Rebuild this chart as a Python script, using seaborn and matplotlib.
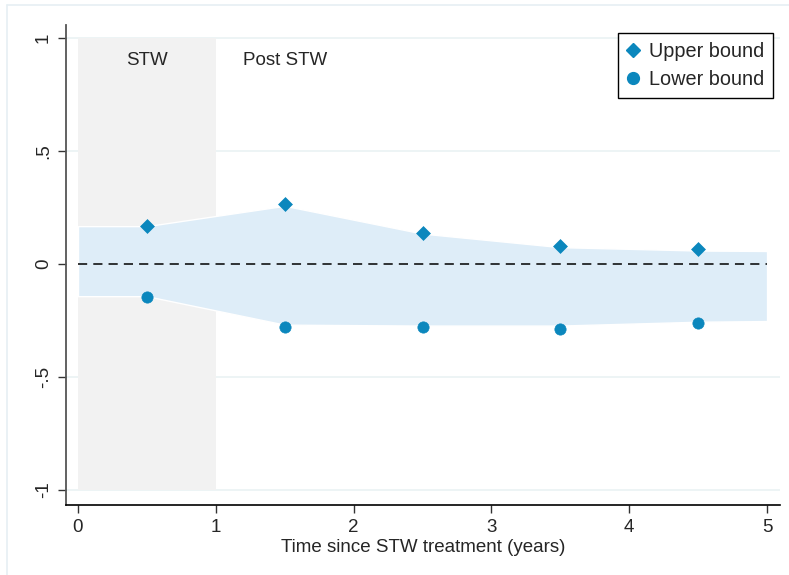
import matplotlib
matplotlib.use("Agg")
import matplotlib.pyplot as plt
import seaborn as sns
import pandas as pd
from matplotlib.lines import Line2D

# ---- data ----
years = [0.5, 1.5, 2.5, 3.5, 4.5]
upper_bound = [0.168, 0.265, 0.137, 0.080, 0.066]
lower_bound = [-0.146, -0.279, -0.279, -0.288, -0.261]

band_x = [0.0, 0.5, 1.5, 2.5, 3.5, 4.5, 5.0]
band_hi = [0.168, 0.168, 0.258, 0.135, 0.075, 0.060, 0.058]
band_lo = [-0.142, -0.142, -0.268, -0.272, -0.272, -0.255, -0.252]

yticks = [-1, -0.5, 0, 0.5, 1]
ytick_labels = ["-1", "-.5", "0", ".5", "1"]
xticks = [0, 1, 2, 3, 4, 5]

df = pd.DataFrame({
    "year": years * 2,
    "value": upper_bound + lower_bound,
    "series": ["Upper bound"] * len(years) + ["Lower bound"] * len(years),
})

sns.set_theme(style="white")
plt.rcParams["font.family"] = ["Liberation Sans", "DejaVu Sans"]

col = "#0b87bd"
fig = plt.figure(figsize=(7.89, 5.75), dpi=100)
W, H = 789, 575
ax = fig.add_axes([66 / W, 1 - 505 / H, (780 - 66) / W, (505 - 25) / H])

ax.set_xlim(-0.087, 5.094)
ax.set_ylim(-1.066, 1.058)

# grid lines
for yv in [-1, -0.5, 0.5, 1]:
    ax.axhline(yv, color="#e8f1f3", lw=1.1, zorder=0)

# STW shaded period
ax.fill_between([0, 1], [-1, -1], [1, 1], color="#f2f2f2", lw=0, zorder=1)

# band
ax.fill_between(band_x, band_lo, band_hi, facecolor="#deedf8", edgecolor="white",
                lw=1.0, zorder=2)

# zero line
ax.plot([0, 5], [0, 0], color="black", lw=1.1, ls=(0, (6, 4)), zorder=3)

# points
sns.scatterplot(data=df[df.series == "Upper bound"], x="year", y="value", marker="D",
                s=50, color=col, edgecolor=col, linewidth=0.5, ax=ax, zorder=4,
                legend=False)
sns.scatterplot(data=df[df.series == "Lower bound"], x="year", y="value", marker="o",
                s=66, color=col, edgecolor=col, linewidth=0.5, ax=ax, zorder=4,
                legend=False)

ax.text(0.5, 0.9, "STW", ha="center", va="center", fontsize=13.5, zorder=5)
ax.text(1.5, 0.9, "Post STW", ha="center", va="center", fontsize=13.5, zorder=5)

ax.set_xticks(xticks)
ax.set_xticklabels([str(v) for v in xticks], fontsize=13.5)
ax.set_yticks(yticks)
ax.set_yticklabels(ytick_labels, fontsize=13.5, rotation=90, va="center")
ax.tick_params(axis="both", length=6, width=1, color="#333333", pad=4, direction="out",
               bottom=True, left=True)
ax.set_xlabel("Time since STW treatment (years)", fontsize=13.5, labelpad=2)
ax.set_ylabel("")

for s in ["top", "right"]:
    ax.spines[s].set_visible(False)
ax.spines["left"].set_color("#555555")
ax.spines["left"].set_linewidth(1.3)
ax.spines["bottom"].set_color("black")
ax.spines["bottom"].set_linewidth(1.2)

handles = [
    Line2D([], [], marker="D", ls="", color=col, markersize=7.5),
    Line2D([], [], marker="o", ls="", color=col, markersize=8.5),
]
leg = ax.legend(handles, ["Upper bound", "Lower bound"], loc="upper right",
                bbox_to_anchor=(1 - 7 / 714, 1 - 8 / 480), fontsize=14.3,
                frameon=True, fancybox=False, edgecolor="black", framealpha=1,
                borderpad=0.45, labelspacing=0.47, handletextpad=0.5,
                handlelength=0.6, borderaxespad=0)
leg.get_frame().set_linewidth(1.0)

# outer frame
fig.add_artist(Line2D([7 / W, 7 / W], [0, 1 - 5 / H], transform=fig.transFigure,
                      color="#e6eff3", lw=1.2))
fig.add_artist(Line2D([7 / W, 1], [1 - 5 / H, 1 - 5 / H], transform=fig.transFigure,
                      color="#e6eff3", lw=1.2))

fig.savefig("out.png", dpi=100)
